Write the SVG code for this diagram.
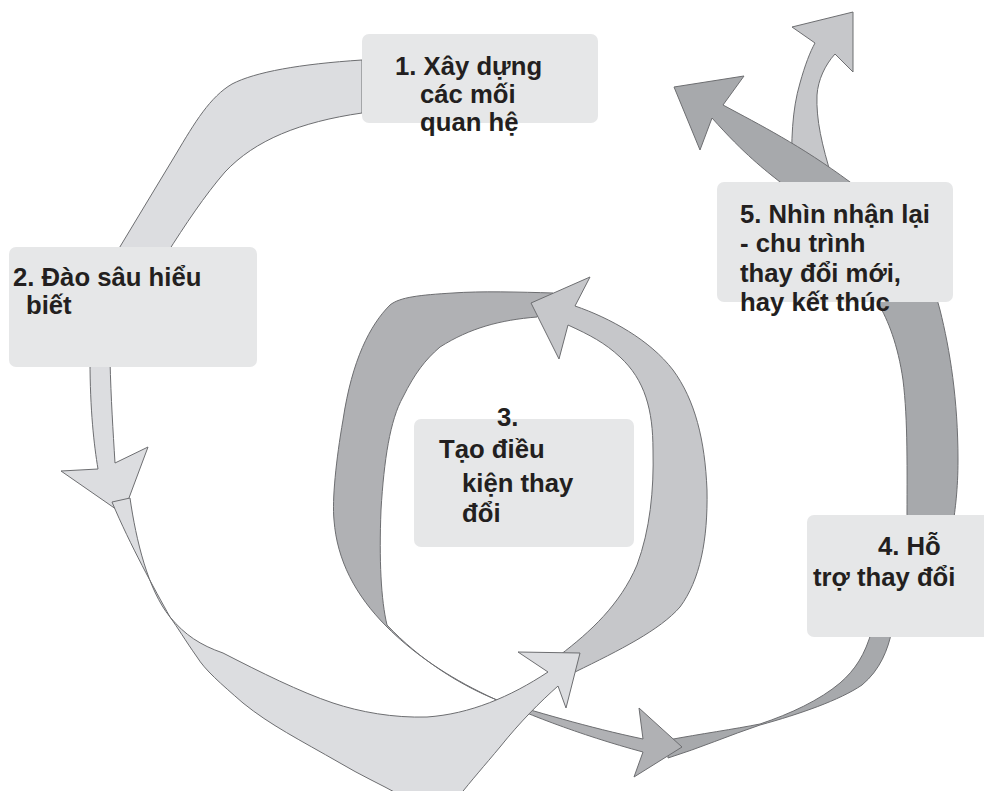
<svg xmlns="http://www.w3.org/2000/svg" width="984" height="791" viewBox="0 0 984 791">
<style>
.a{stroke:#6d6e71;stroke-width:1;stroke-linejoin:miter}
.l1{fill:#dcdde0}
.l2{fill:#c6c7ca}
.d1{fill:#b0b1b4}
.d2{fill:#a7a9ac}
.box{fill:#e6e7e8}
.t{font-family:"Liberation Sans",Arial,sans-serif;font-weight:bold;font-size:25.7px;fill:#231f20}
</style>
<rect width="984" height="791" fill="#ffffff"/>
<g id="connectors">
<path class="a l1" d="M362,60 C300,64 255,72 232,84 C210,97 195,122 176,154 L115,255 L166,255 C185,225 205,195 225,172 C255,140 300,122 362,113 Z"/>
<path class="a l2" d="M792,178 C791,140 792,110 800,83 C805,65 810,52 815,43 L792,27 L853,12 L853,72 L835,54 C825,65 818,80 817,95 C816,120 822,145 832,178 Z"/>
<path class="a d2" d="M907,525 C907,470 908,420 903,380 C898,345 888,320 878,303 C850,250 810,200 780,182 C765,170 745,155 712,118 L700,150 L674,87 L744,76 L723,105 C760,125 800,145 850,182 C900,220 930,270 940,310 C950,350 958,400 958,460 C958,490 955,510 953,525 Z"/>
<path class="a d2" d="M668,740 C700,734 735,729 760,724 C790,714 820,700 840,683 C855,670 865,655 872,630 L892,630 C888,650 880,670 862,685 C840,700 800,714 760,725 C730,735 700,748 668,758 Z"/>
<path class="a d1" d="M553,293 C520,292 480,291 453,293 C420,295 400,297 390,305 C370,325 352,360 343,420 C336,460 332,500 334,520 C337,560 355,595 387,627 C410,650 440,672 480,692 C520,712 580,735 643,752 L634,777 L682,747 L639,708 L643,739 C590,728 530,710 497,700 C460,685 420,660 387,625 C381,600 379,560 381,510 C384,460 390,420 403,397 C415,373 425,360 440,347 C470,328 500,320 537,317 Z"/>
<path class="a l2" d="M560,655 C590,632 620,605 637,565 C650,530 654,490 653,450 C653,410 645,380 620,357 C605,343 590,335 568,325 L559,359 L531,303 L590,277 L575,306 C610,318 650,340 673,370 C695,400 705,440 707,490 C708,540 700,580 680,607 C660,630 620,650 575,672 Z"/>
<path class="a l1" d="M90,360 C90,410 94,445 98,469 L61,471 L123,514 L148,447 L115,463 C113,430 111,400 110,360 Z"/>
<path class="a l1" d="M112,502 L130,498 C136,540 148,590 170,617 C185,635 200,645 223,653 C260,672 300,692 333,703 C360,712 393,718 427,717 C470,714 510,697 548,672 L518,652 L580,653 L566,708 L558,686 C540,702 520,722 500,747 C485,765 470,782 460,795 L400,795 C380,784 360,775 340,763 C300,740 270,725 243,703 C220,683 205,670 197,657 C185,640 178,628 170,617 C155,590 130,545 112,502 Z"/>
</g>
<g id="node1">
<rect class="box" x="362" y="34" width="236" height="89" rx="7"/>
<text class="t" x="395" y="75">1. Xây dựng</text>
<text class="t" x="420" y="103">các mối</text>
<text class="t" x="420" y="131">quan hệ</text>
</g>
<g id="node2">
<rect class="box" x="9" y="247" width="248" height="120" rx="7"/>
<text class="t" x="13" y="286">2. Đào sâu hiểu</text>
<text class="t" x="26" y="314">biết</text>
</g>
<g id="node3">
<rect class="box" x="414" y="419" width="220" height="128" rx="7"/>
<text class="t" x="497" y="426">3.</text>
<text class="t" x="439" y="458">Tạo điều</text>
<text class="t" x="462" y="492">kiện thay</text>
<text class="t" x="462" y="522">đổi</text>
</g>
<g id="node4">
<rect class="box" x="807" y="515" width="190" height="122" rx="7"/>
<text class="t" x="878" y="555">4. Hỗ</text>
<text class="t" x="813" y="586">trợ thay đổi</text>
</g>
<g id="node5">
<rect class="box" x="717" y="182" width="236" height="120" rx="7"/>
<text class="t" x="740" y="223">5. Nhìn nhận lại</text>
<text class="t" x="740" y="252">- chu trình</text>
<text class="t" x="740" y="282">thay đổi mới,</text>
<text class="t" x="740" y="311">hay kết thúc</text>
</g>
</svg>
